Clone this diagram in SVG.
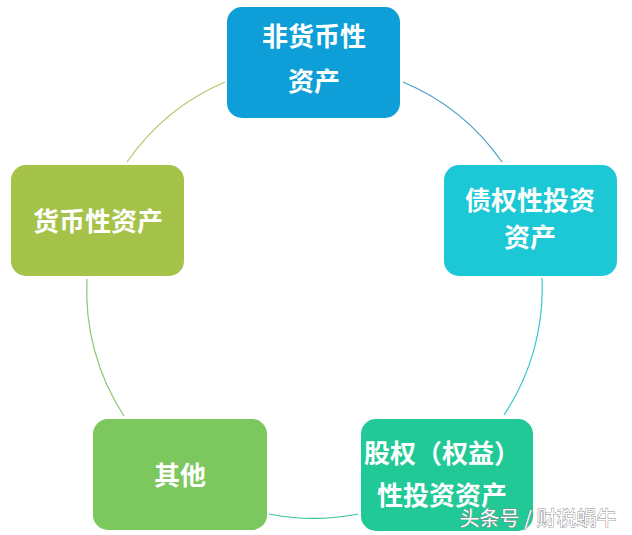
<svg xmlns="http://www.w3.org/2000/svg" width="632" height="535" viewBox="0 0 632 535">
<style>
.lbl{font-family:"Noto Sans CJK SC","Noto Sans",sans-serif;font-weight:bold;font-size:26px;fill:#fff;text-anchor:middle}
.arc{fill:none;stroke-width:1.2}
.wm{font-family:"Noto Sans CJK SC","Noto Sans",sans-serif;font-size:20px;fill:#fff;stroke:#8a8a8a;stroke-width:0.9;paint-order:stroke;text-anchor:middle}
</style>
<rect width="632" height="535" fill="#fff"/>
<g id="connectors">
<path class="arc" stroke="#B9C463" d="M127,162 A228,228 0 0 1 225,82"/>
<path class="arc" stroke="#4A9EC8" d="M403,82 A228,228 0 0 1 502,162"/>
<path class="arc" stroke="#34C6D2" d="M542,278 A228,228 0 0 1 504,415"/>
<path class="arc" stroke="#34C49E" d="M358,514 A228,228 0 0 1 269,514"/>
<path class="arc" stroke="#8CC86E" d="M124,416 A228,228 0 0 1 87,279"/>
</g>
<g id="node-nonmonetary">
<rect x="227" y="7" width="173" height="111" rx="15" fill="#0E9FD8"/>
<text class="lbl" x="314" y="46">非货币性</text>
<text class="lbl" x="314" y="91">资产</text>
</g>
<g id="node-debt">
<rect x="444" y="165" width="173" height="111" rx="15" fill="#1CC8D6"/>
<text class="lbl" x="530" y="210">债权性投资</text>
<text class="lbl" x="530" y="247">资产</text>
</g>
<g id="node-monetary">
<rect x="11" y="165" width="173" height="111" rx="15" fill="#A5C249"/>
<text class="lbl" x="98" y="231">货币性资产</text>
</g>
<g id="node-other">
<rect x="93" y="419" width="174" height="111" rx="15" fill="#7CC75E"/>
<text class="lbl" x="180" y="485">其他</text>
</g>
<g id="node-equity">
<rect x="361" y="419" width="172" height="112" rx="15" fill="#20C996"/>
<text class="lbl" x="442" y="463">股权（权益）</text>
<text class="lbl" x="442" y="505">性投资资产</text>
</g>
<text class="wm" x="538" y="526">头条号 / 财税蜗牛</text>
</svg>
